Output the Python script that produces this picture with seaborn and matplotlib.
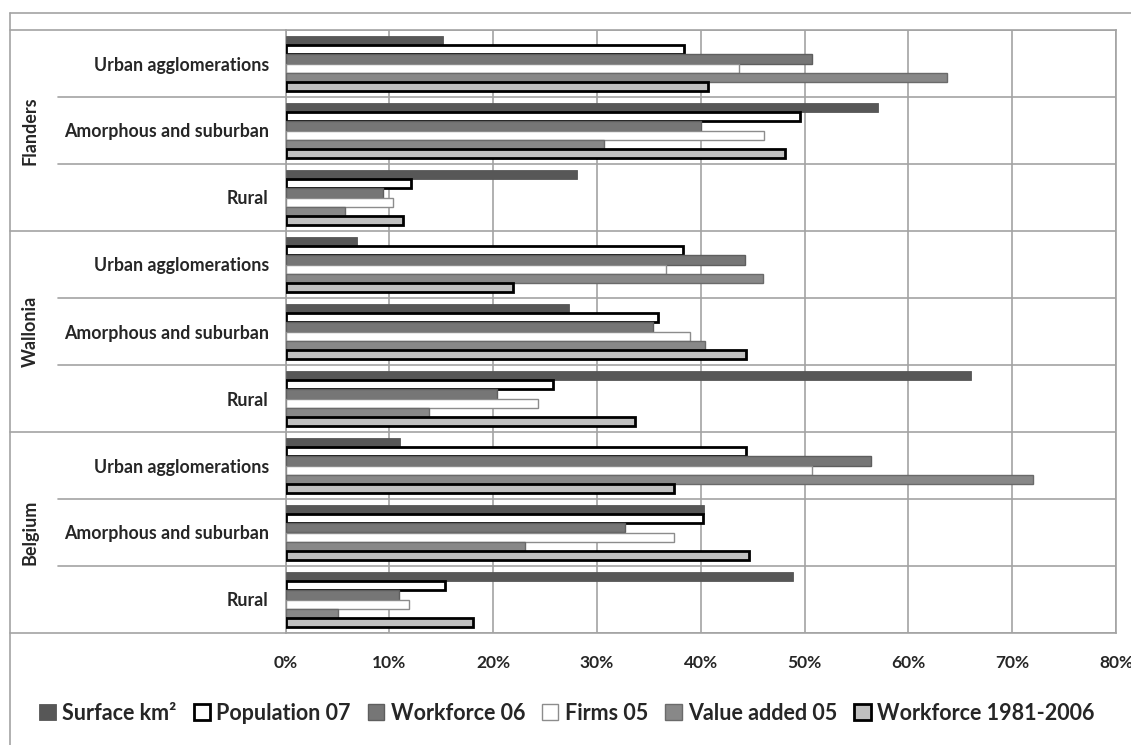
import matplotlib
matplotlib.use("Agg")
import matplotlib.pyplot as plt
import matplotlib.transforms as mtransforms
from matplotlib.lines import Line2D
from matplotlib.ticker import PercentFormatter
import numpy as np
import pandas as pd
import seaborn as sns

# Regions and urban typology (top to bottom)
regions = ["Flanders", "Wallonia", "Belgium"]
zone_types = ["Urban agglomerations", "Amorphous and suburban", "Rural"]

# Share of each region's total (%) per zone type, order: Flanders U/A/R, Wallonia U/A/R, Belgium U/A/R
surface_km2 = [15.2, 57.1, 28.1, 6.9, 27.3, 66.0, 11.0, 40.3, 48.9]
population_07 = [38.4, 49.6, 12.1, 38.3, 35.9, 25.8, 44.4, 40.2, 15.4]
workforce_06 = [50.7, 40.0, 9.4, 44.3, 35.4, 20.4, 56.4, 32.7, 10.9]
firms_05 = [43.7, 46.1, 10.4, 36.7, 39.0, 24.3, 50.7, 37.4, 11.9]
value_added_05 = [63.7, 30.7, 5.7, 46.0, 40.4, 13.8, 72.0, 23.1, 5.1]
workforce_1981_2006 = [40.7, 48.1, 11.3, 21.9, 44.4, 33.7, 37.4, 44.6, 18.1]

series_names = ["Surface km²", "Population 07", "Workforce 06", "Firms 05",
                "Value added 05", "Workforce 1981-2006"]
series_values = [surface_km2, population_07, workforce_06, firms_05,
                 value_added_05, workforce_1981_2006]

# Bar styling per series: face, edge, edge width
styles = {
    "Surface km²": ("#575757", "#575757", 0.6),
    "Population 07": ("#ffffff", "#000000", 2.0),
    "Workforce 06": ("#767676", "#5e5e5e", 1.0),
    "Firms 05": ("#ffffff", "#8c8c8c", 1.0),
    "Value added 05": ("#888888", "#6a6a6a", 1.0),
    "Workforce 1981-2006": ("#c0c0c0", "#000000", 2.0),
}

row_keys = [f"{r} | {z}" for r in regions for z in zone_types]
records = []
for name, vals in zip(series_names, series_values):
    for key, v in zip(row_keys, vals):
        records.append({"row": key, "series": name, "share": v})
df = pd.DataFrame(records)

sns.set_style("white")
plt.rcParams["font.family"] = ["Lato", "DejaVu Sans"]
plt.rcParams["font.weight"] = "bold"

W, H = 1131, 745
fig = plt.figure(figsize=(W / 100, H / 100), dpi=100)
x0, x1, y0, y1 = 285.5, 1116, 30, 633
ax = fig.add_axes([x0 / W, 1 - y1 / H, (x1 - x0) / W, (y1 - y0) / H])

sns.barplot(data=df, y="row", x="share", hue="series", order=row_keys,
            hue_order=series_names, orient="h", width=0.82, dodge=True,
            legend=False, ax=ax, errorbar=None)

for name, cont in zip(series_names, ax.containers):
    fc, ec, lw = styles[name]
    for p in cont.patches:
        p.set_facecolor(fc)
        p.set_edgecolor(ec)
        p.set_linewidth(lw)
        p.set_zorder(3)

grid_c = "#a3a3a3"
ax.set_xlim(0, 80)
ax.set_ylim(len(row_keys) - 0.5, -0.5)
ax.set_xticks(range(0, 81, 10))
ax.xaxis.set_major_formatter(PercentFormatter(100, decimals=0))
ax.grid(axis="x", color=grid_c, lw=1.2, zorder=0)
ax.set_axisbelow(True)
for k in range(len(row_keys) + 1):
    ax.axhline(k - 0.5, color=grid_c, lw=1.2, zorder=1)
for s in ax.spines.values():
    s.set_color(grid_c)
    s.set_linewidth(1.2)

ax.set_yticks(range(len(row_keys)), labels=zone_types * len(regions))
ax.tick_params(axis="y", length=0, pad=12, labelsize=12.8)
ax.tick_params(axis="x", length=4, width=1.2, color=grid_c, pad=12, labelsize=12.5,
               direction="out")
for lab in ax.get_xticklabels() + ax.get_yticklabels():
    lab.set_fontweight("bold")
ax.set_xlabel("")
ax.set_ylabel("")

# Multi-level category dividers extending left of the plot
blend = mtransforms.blended_transform_factory(fig.transFigure, ax.transData)
for k in range(len(row_keys) + 1):
    left = 10 if k % 3 == 0 else 58
    fig.add_artist(Line2D([left / W, x0 / W], [k - 0.5, k - 0.5], transform=blend,
                          color=grid_c, lw=1.2))

# Region labels
for i, r in enumerate(regions):
    fig.text(30 / W, 3 * i + 1, r, transform=blend, rotation=90,
             ha="center", va="center", fontsize=13, fontweight="bold")

# Chart frame
fig.add_artist(Line2D([10 / W, 1], [1 - 13 / H, 1 - 13 / H], color=grid_c, lw=1.2))
fig.add_artist(Line2D([10 / W, 10 / W], [0, 1 - 13 / H], color=grid_c, lw=1.2))

# Legend
handles = [cont.patches[0] for cont in ax.containers]
leg = fig.legend(handles, series_names, loc="center", bbox_to_anchor=(567 / W, 1 - 713 / H),
                 ncol=6, frameon=False, handlelength=0.75, handleheight=0.75,
                 handletextpad=0.3, columnspacing=0.8,
                 prop={"weight": "bold", "size": 15.5})

fig.savefig("out.png", dpi=100)
